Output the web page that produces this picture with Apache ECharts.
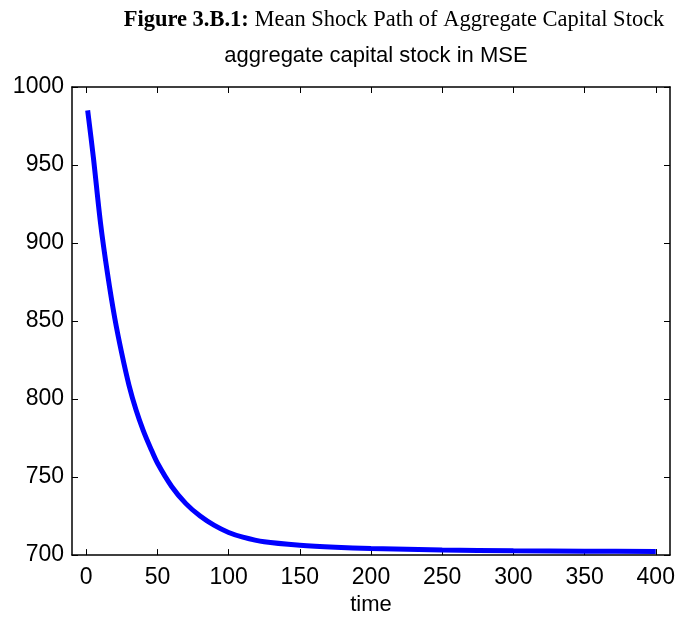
<!DOCTYPE html>
<html>
<head>
<meta charset="utf-8">
<script src="https://cdn.jsdelivr.net/npm/echarts@6/dist/echarts.min.js"></script>
<style>
html,body{margin:0;padding:0;background:#fff;}
#chart{width:681px;height:621px;}
</style>
</head>
<body>
<div id="chart"></div>
<script>
const timePoints = [1, 5, 10, 15, 20, 25, 30, 35, 40, 45, 50, 60, 70, 80, 90, 100, 110, 125, 150, 175, 200, 250, 300, 350, 400];
const capitalStock = [985, 955, 913, 880, 852, 829, 809, 793, 780, 769, 759, 744, 733, 725, 719, 714.5, 711.5, 708.5, 706.3, 705, 704.2, 703.3, 702.8, 702.5, 702.3];
const xTicks = [0, 50, 100, 150, 200, 250, 300, 350, 400];
const yTicks = [700, 750, 800, 850, 900, 950, 1000];

const seriesData = timePoints.map((t, i) => [t, capitalStock[i]]);
const chart = echarts.init(document.getElementById('chart'), null, {renderer: 'canvas'});
const lblFont = {fontFamily: 'Liberation Sans', fontSize: 23, color: '#000'};
chart.setOption({
  animation: false,
  backgroundColor: '#fff',
  title: [
    {
      text: '{b|Figure 3.B.1:} Mean Shock Path of Aggregate Capital Stock',
      left: 389, top: 4, textAlign: 'center',
      textStyle: {
        fontFamily: 'Liberation Serif', fontSize: 22.5, fontWeight: 'normal', color: '#000',
        rich: {b: {fontFamily: 'Liberation Serif', fontSize: 22.5, fontWeight: 'bold', color: '#000'}}
      }
    },
    {
      text: 'aggregate capital stock in MSE',
      left: 371, top: 40, textAlign: 'center',
      textStyle: {fontFamily: 'Liberation Sans', fontSize: 22, fontWeight: 'normal', color: '#000'}
    }
  ],
  grid: {left: 72, right: 11, top: 87, bottom: 62, containLabel: false},
  xAxis: [
    {
      type: 'value', min: -10, max: 410, position: 'bottom',
      name: 'time', nameLocation: 'middle', nameGap: 36,
      nameTextStyle: {fontFamily: 'Liberation Sans', fontSize: 22, color: '#000'},
      axisLine: {show: true, onZero: false, lineStyle: {color: '#000', width: 1.5}},
      axisTick: {show: true, inside: true, length: 6, customValues: xTicks, lineStyle: {color: '#000'}},
      axisLabel: Object.assign({margin: 11, customValues: xTicks}, lblFont),
      splitLine: {show: false}
    },
    {
      type: 'value', min: -10, max: 410, position: 'top',
      axisLine: {show: true, onZero: false, lineStyle: {color: '#000', width: 1.5}},
      axisTick: {show: true, inside: true, length: 6, customValues: xTicks, lineStyle: {color: '#000'}},
      axisLabel: {show: false},
      splitLine: {show: false}
    }
  ],
  yAxis: [
    {
      type: 'value', min: 700, max: 1000, interval: 50, position: 'left',
      axisLine: {show: true, onZero: false, lineStyle: {color: '#000', width: 1.5}},
      axisTick: {show: true, inside: true, length: 6, lineStyle: {color: '#000'}},
      axisLabel: Object.assign({margin: 8, formatter: v => String(v)}, lblFont),
      splitLine: {show: false}
    },
    {
      type: 'value', min: 700, max: 1000, interval: 50, position: 'right',
      axisLine: {show: true, onZero: false, lineStyle: {color: '#000', width: 1.5}},
      axisTick: {show: true, inside: true, length: 6, lineStyle: {color: '#000'}},
      axisLabel: {show: false},
      splitLine: {show: false}
    }
  ],
  series: [{
    type: 'line',
    data: seriesData,
    smooth: 0.3,
    showSymbol: false,
    lineStyle: {color: '#0000ff', width: 5},
    itemStyle: {color: '#0000ff'},
    z: 1
  }]
});
</script>
</body>
</html>
